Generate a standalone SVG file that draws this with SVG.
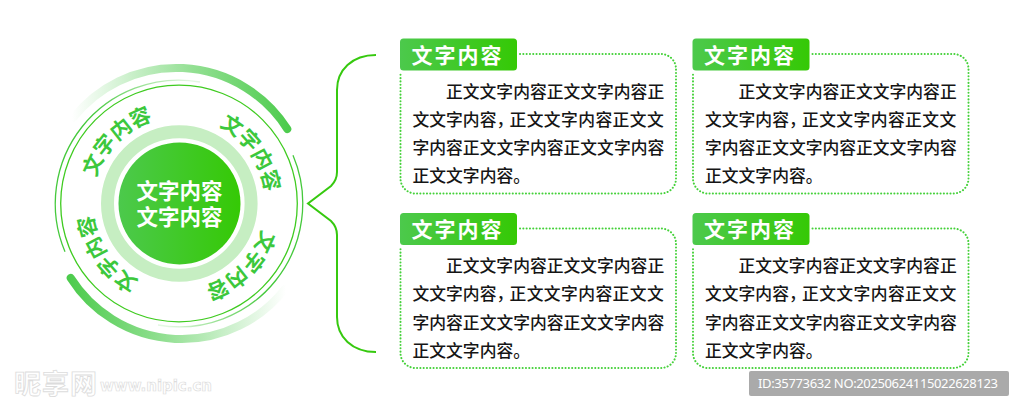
<svg xmlns="http://www.w3.org/2000/svg" width="1024" height="411" viewBox="0 0 1024 411">
<style>
text{font-family:"Noto Sans CJK SC","Noto Sans",sans-serif}
.body{font-size:16.8px;fill:#151515;font-weight:500}
.head{font-size:21px;fill:#fff;font-weight:700;letter-spacing:2px}
.ctr{font-size:21.5px;fill:#fff;font-weight:700;text-anchor:middle}
.cur{font-size:21px;fill:#3cc83c;font-weight:700;text-anchor:middle}
.dot{fill:none;stroke:#45d13a;stroke-width:2;stroke-linecap:round;stroke-dasharray:.1 3.2}
</style>
<defs>
<linearGradient id="g" x1="0" x2="1" y1="0" y2="0"><stop offset="0" stop-color="#4cc94c"/><stop offset="1" stop-color="#35c905"/></linearGradient>
<linearGradient id="thick" gradientUnits="userSpaceOnUse" x1="72" y1="0" x2="290" y2="0"><stop offset="0" stop-color="#4ccb4c" stop-opacity="0"/><stop offset=".55" stop-color="#4ccb4c" stop-opacity=".6"/><stop offset="1" stop-color="#4ccb4c"/></linearGradient>
<linearGradient id="thin" gradientUnits="userSpaceOnUse" x1="190" y1="78" x2="100" y2="125"><stop offset="0" stop-color="#45c93c" stop-opacity=".15"/><stop offset="1" stop-color="#45c93c"/></linearGradient>
<path id="arc" d="M103.7 160A87 87 0 0 1 254.3 160"/>
</defs>
<rect width="1024" height="411" fill="#fff"/>
<g id="watermark">
<text x="14" y="394" font-size="27" font-weight="700" letter-spacing="1" fill="#fff" stroke="#dcdcdc" stroke-width=".8">昵享网</text>
<text x="100" y="391" style="font-family:'DejaVu Sans',sans-serif" font-size="15" font-weight="700" fill="#fff" stroke="#dcdcdc" stroke-width=".7" textLength="112">www.nipic.cn</text>
</g>
<g id="circle-rings" fill="none">
<circle cx="179" cy="203.5" r="118.3" stroke="#3fcb20" stroke-width="1.3"/>
<g id="arcs-a">
<path d="M73 118A131.5 131.5 0 0 1 287.3 129" stroke="url(#thick)" stroke-width="8" stroke-linecap="round"/>
<path d="M65 251.7A123.5 123.5 0 0 1 200 82" stroke="url(#thin)" stroke-width="1.3"/>
</g>
<g id="arcs-b" transform="rotate(180 179 203.5)">
<path d="M73 118A131.5 131.5 0 0 1 287.3 129" stroke="url(#thick)" stroke-width="8" stroke-linecap="round"/>
<path d="M65 251.7A123.5 123.5 0 0 1 200 82" stroke="url(#thin)" stroke-width="1.3"/>
</g>
<circle cx="179.3" cy="203.5" r="71.8" stroke="#c6eec2" stroke-width="13"/>
</g>
<g id="center">
<circle cx="179.5" cy="203.4" r="61" fill="url(#g)"/>
<text class="ctr" x="179.5" y="199">文字内容</text>
<text class="ctr" x="179.5" y="225">文字内容</text>
</g>
<g id="ring-label-1" transform="rotate(-45 179 203.5)"><text class="cur"><textPath href="#arc" startOffset="50%">文字内容</textPath></text></g>
<g id="ring-label-2" transform="rotate(55 179 203.5)"><text class="cur"><textPath href="#arc" startOffset="50%">文字内容</textPath></text></g>
<g id="ring-label-3" transform="rotate(135 179 203.5)"><text class="cur"><textPath href="#arc" startOffset="50%">文字内容</textPath></text></g>
<g id="ring-label-4" transform="rotate(235 179 203.5)"><text class="cur"><textPath href="#arc" startOffset="50%">文字内容</textPath></text></g>
<g id="connectors">
<path d="M376 55C352 55 337 70 337 90V172C337 178 335 182 331 186L308 203.5L331 221C335 225 337 229 337 235V317C337 337 352 352 376 352" fill="none" stroke="#36c90f" stroke-width="2"/>
</g>
<g id="card-1">
<path class="dot" d="M520 54H661A15 15 0 0 1 676 69V178.500A15 15 0 0 1 661 193.500H415.500A15 15 0 0 1 400.500 178.500V72"/>
<rect x="400" y="38.500" width="117" height="32" rx="3.500" fill="url(#g)"/>
<text class="head" x="411.500" y="62.500">文字内容</text>
<text class="body" x="446" y="97.500">正文文字内容正文文字内容正</text>
<text class="body" x="412.500" y="125.800">文文字内容，<tspan x="509.500" letter-spacing=".4">正文文字内容正文文</tspan></text>
<text class="body" x="412.500" y="154">字内容正文文字内容正文文字内容</text>
<text class="body" x="412.500" y="182.300">正文文字内容。</text>
</g>
<g id="card-2" transform="translate(292.500 0)">
<path class="dot" d="M520 54H661A15 15 0 0 1 676 69V178.500A15 15 0 0 1 661 193.500H415.500A15 15 0 0 1 400.500 178.500V72"/>
<rect x="400" y="38.500" width="117" height="32" rx="3.500" fill="url(#g)"/>
<text class="head" x="411.500" y="62.500">文字内容</text>
<text class="body" x="446" y="97.500">正文文字内容正文文字内容正</text>
<text class="body" x="412.500" y="125.800">文文字内容，<tspan x="509.500" letter-spacing=".4">正文文字内容正文文</tspan></text>
<text class="body" x="412.500" y="154">字内容正文文字内容正文文字内容</text>
<text class="body" x="412.500" y="182.300">正文文字内容。</text>
</g>
<g id="card-3" transform="translate(0 174.500)">
<path class="dot" d="M520 54H661A15 15 0 0 1 676 69V178.500A15 15 0 0 1 661 193.500H415.500A15 15 0 0 1 400.500 178.500V72"/>
<rect x="400" y="38.500" width="117" height="32" rx="3.500" fill="url(#g)"/>
<text class="head" x="411.500" y="62.500">文字内容</text>
<text class="body" x="446" y="97.500">正文文字内容正文文字内容正</text>
<text class="body" x="412.500" y="125.800">文文字内容，<tspan x="509.500" letter-spacing=".4">正文文字内容正文文</tspan></text>
<text class="body" x="412.500" y="154">字内容正文文字内容正文文字内容</text>
<text class="body" x="412.500" y="182.300">正文文字内容。</text>
</g>
<g id="card-4" transform="translate(292.500 174.500)">
<path class="dot" d="M520 54H661A15 15 0 0 1 676 69V178.500A15 15 0 0 1 661 193.500H415.500A15 15 0 0 1 400.500 178.500V72"/>
<rect x="400" y="38.500" width="117" height="32" rx="3.500" fill="url(#g)"/>
<text class="head" x="411.500" y="62.500">文字内容</text>
<text class="body" x="446" y="97.500">正文文字内容正文文字内容正</text>
<text class="body" x="412.500" y="125.800">文文字内容，<tspan x="509.500" letter-spacing=".4">正文文字内容正文文</tspan></text>
<text class="body" x="412.500" y="154">字内容正文文字内容正文文字内容</text>
<text class="body" x="412.500" y="182.300">正文文字内容。</text>
</g>
<g id="id-bar">
<rect x="749" y="371" width="260" height="25" rx="2" fill="#aaa"/>
<text x="758" y="388" font-size="13" fill="#fff" textLength="240" style="font-family:'Noto Sans',sans-serif">ID:35773632 NO:20250624115022628123</text>
</g>
</svg>
